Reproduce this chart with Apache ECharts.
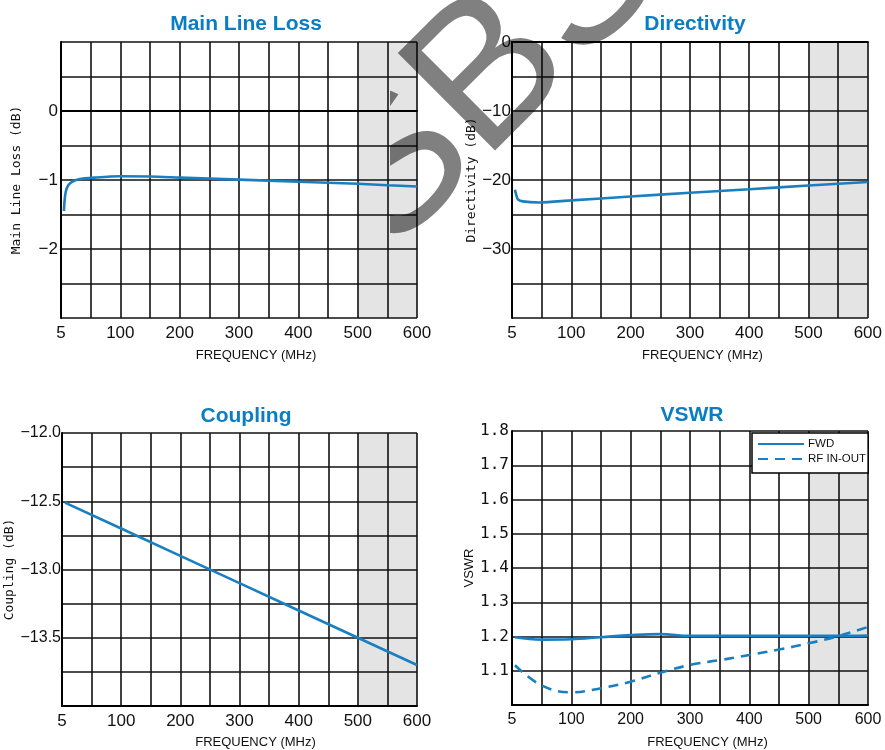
<!DOCTYPE html>
<html>
<head>
<meta charset="utf-8">
<script src="https://cdn.jsdelivr.net/npm/echarts@6/dist/echarts.min.js"></script>
<style>
  html, body { margin: 0; padding: 0; background: #fff; }
  #main { position: absolute; left: 0; top: 0; width: 885px; height: 750px; }
  #wm { position: absolute; left: 390px; top: 0; width: 495px; height: 300px; mix-blend-mode: multiply; pointer-events: none; }
</style>
</head>
<body>
<div id="main"></div>
<div id="wm"></div>
<script>
// ---------- data ----------
const xTickLabels = ['5', '100', '200', '300', '400', '500', '600'];

const mlFreq = [5, 6, 8, 12, 18, 30, 57, 100, 150, 200, 250, 300, 350, 400, 450, 500, 550, 600];
const mlLoss = [-1.45, -1.30, -1.17, -1.08, -1.03, -0.99, -0.965, -0.945, -0.95, -0.965, -0.98, -0.995, -1.01, -1.025, -1.04, -1.055, -1.075, -1.095];
const mlYTickValues = [0, -1, -2];
const mlYTickLabels = ['0', '\u22121', '\u22122'];

const dirFreq = [5, 7, 10, 18, 45, 100, 200, 300, 400, 500, 600];
const dirVal = [-21.4, -22.1, -22.8, -23.1, -23.25, -22.95, -22.4, -21.85, -21.35, -20.8, -20.3];
const dirYTickValues = [0, -10, -20, -30];
const dirYTickLabels = ['0', '\u221210', '\u221220', '\u221230'];

const cpFreq = [5, 100, 200, 300, 400, 500, 600];
const cpVal = [-12.51, -12.70, -12.90, -13.10, -13.30, -13.50, -13.70];
const cpYTickValues = [-12.0, -12.5, -13.0, -13.5];
const cpYTickLabels = ['\u221212.0', '\u221212.5', '\u221213.0', '\u221213.5'];

const vsFreq = [5, 50, 100, 150, 200, 250, 300, 350, 400, 450, 500, 550, 600];
const vsFwd = [1.198, 1.191, 1.192, 1.198, 1.204, 1.207, 1.202, 1.202, 1.202, 1.202, 1.202, 1.202, 1.203];
const vsRf = [1.116, 1.057, 1.037, 1.049, 1.068, 1.094, 1.117, 1.131, 1.146, 1.162, 1.180, 1.201, 1.228];
const vsYTickValues = [1.1, 1.2, 1.3, 1.4, 1.5, 1.6, 1.7, 1.8];
const vsYTickLabels = ['1.1', '1.2', '1.3', '1.4', '1.5', '1.6', '1.7', '1.8'];

const shadeRange = [500, 600];
const titles = ['Main Line Loss', 'Directivity', 'Coupling', 'VSWR'];
const yNames = ['Main Line Loss (dB)', 'Directivity (dB)', 'Coupling (dB)', 'VSWR'];
const xName = 'FREQUENCY (MHz)';
const legendNames = ['FWD', 'RF IN-OUT'];
const watermarkText = 'SBS';

// ---------- styles ----------
const BLUE = '#1a7fc1';
const TITLE_BLUE = '#0b7dc2';
const SANS = "'Liberation Sans', Arial, sans-serif";
const MONO = "'DejaVu Sans Mono', monospace";

const grids = [
  { left: 61, top: 42, width: 356, height: 276 },
  { left: 512, top: 42, width: 356, height: 276 },
  { left: 62, top: 433, width: 355, height: 275 },
  { left: 512, top: 431, width: 356, height: 275 }
];

function pick(vals, labels) {
  return function (v) {
    for (let i = 0; i < vals.length; i++) if (Math.abs(vals[i] - v) < 1e-6) return labels[i];
    return '';
  };
}
function pair(xs, ys) { return xs.map((x, i) => [x, ys[i]]); }

function xAxis(gi, fontSize, nameOffset, labelMargin, nameGap) {
  return {
    type: 'value', gridIndex: gi, min: 0, max: 600, interval: 50, z: 1.5,
    name: xName, nameLocation: 'middle', nameGap: nameGap,
    nameTextStyle: { fontFamily: SANS, fontSize: 13, color: '#111', padding: [0, 0, 0, nameOffset] },
    axisLine: { show: true, lineStyle: { color: '#000', width: 2 } },
    axisTick: { show: false },
    splitLine: { show: true, lineStyle: { color: '#111', width: 1.6 } },
    axisLabel: {
      margin: labelMargin, fontFamily: SANS, fontSize: fontSize, color: '#111',
      formatter: function (v, idx) { return idx % 2 === 0 ? (xTickLabels[idx / 2] || '') : ''; }
    }
  };
}
function yAxis(gi, min, max, interval, vals, labels, font, fontSize, margin, nameGap, nameFont) {
  return {
    type: 'value', gridIndex: gi, min: min, max: max, interval: interval, z: 1.5,
    name: yNames[gi], nameLocation: 'middle', nameGap: nameGap,
    nameTextStyle: { fontFamily: nameFont, fontSize: 13, color: '#111' },
    axisLine: { show: true, lineStyle: { color: '#000', width: 2 } },
    axisTick: { show: false },
    splitLine: { show: true, lineStyle: { color: '#111', width: 1.6 } },
    axisLabel: { margin: margin, fontFamily: font, fontSize: fontSize, color: '#111', formatter: pick(vals, labels), showMinLabel: true, showMaxLabel: true }
  };
}
function shade(gi) {
  return {
    type: 'line', xAxisIndex: gi, yAxisIndex: gi, data: [], silent: true,
    markArea: { silent: true, itemStyle: { color: '#e4e4e4' }, data: [[{ xAxis: shadeRange[0] }, { xAxis: shadeRange[1] }]] }
  };
}
function line(gi, name, data, dashed, smooth) {
  return {
    type: 'line', name: name, xAxisIndex: gi, yAxisIndex: gi, data: data,
    showSymbol: false, symbol: 'none', smooth: smooth, z: 3,
    lineStyle: { color: BLUE, width: 2.6, type: dashed ? [10, 7] : 'solid' },
    itemStyle: { color: BLUE }
  };
}

const titleCenters = [[241, 9], [690, 9], [241, 401], [687, 400]];

const option = {
  backgroundColor: '#fff',
  animation: false,
  title: titles.map((t, i) => ({
    text: t, left: titleCenters[i][0], top: titleCenters[i][1], textAlign: 'center',
    textStyle: { fontFamily: SANS, fontWeight: 'bold', fontSize: 21, color: TITLE_BLUE }
  })),
  grid: grids.map(g => Object.assign({ show: false, containLabel: false }, g)),
  legend: {
    data: legendNames, orient: 'vertical', left: 752, top: 433,
    backgroundColor: '#fff', borderColor: '#000', borderWidth: 1.5,
    padding: [5, 2, 8, 5], itemWidth: 46, itemHeight: 10, itemGap: 3,
    itemStyle: { opacity: 0, color: 'rgba(0,0,0,0)', borderWidth: 0 },
    textStyle: { fontFamily: SANS, fontSize: 11.5, color: '#111', padding: [0, 0, 0, -1] }
  },
  xAxis: [
    xAxis(0, 17, 34, 7, 31),
    xAxis(1, 17, 25, 7, 31),
    xAxis(2, 17, 32, 7, 30),
    xAxis(3, 16, 35, 7, 31)
  ],
  yAxis: [
    yAxis(0, -3, 1, 0.5, mlYTickValues, mlYTickLabels, SANS, 17, 3, 38, MONO),
    yAxis(1, -40, 0, 5, dirYTickValues, dirYTickLabels, SANS, 17, 1, 33, MONO),
    yAxis(2, -14, -12, 0.25, cpYTickValues, cpYTickLabels, SANS, 16, 1, 39, MONO),
    yAxis(3, 1.0, 1.8, 0.1, vsYTickValues, vsYTickLabels, MONO, 16, 3, 33, SANS)
  ],
  series: [
    shade(0), shade(1), shade(2), shade(3),
    line(0, 'Main Line Loss', pair(mlFreq, mlLoss), false, 0.3),
    line(1, 'Directivity', pair(dirFreq, dirVal), false, 0.3),
    line(2, 'Coupling', pair(cpFreq, cpVal), false, false),
    line(3, legendNames[0], pair(vsFreq, vsFwd), false, 0.4),
    line(3, legendNames[1], pair(vsFreq, vsRf), true, 0.4)
  ]
};

const chart = echarts.init(document.getElementById('main'), null, { renderer: 'canvas' });
chart.setOption(option);

// watermark (grey text, multiply-blended over the chart)
const wm = echarts.init(document.getElementById('wm'), null, { renderer: 'canvas' });
wm.setOption({
  graphic: [{
    type: 'text', x: 31, y: 288, rotation: Math.PI / 4, silent: true,
    style: { text: watermarkText, fontFamily: SANS, fontSize: 200, fill: '#808080', textAlign: 'left', textVerticalAlign: 'bottom' }
  }]
});
</script>
</body>
</html>
